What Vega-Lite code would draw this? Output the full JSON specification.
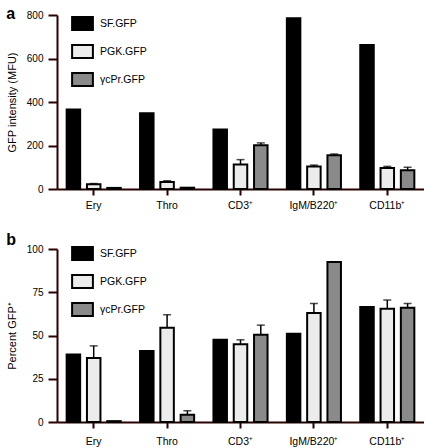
{
  "$schema": "https://vega.github.io/schema/vega-lite/v6.json",
  "padding": {"left": 6, "top": 6, "right": 0, "bottom": 0},
  "config": {
    "font": "Liberation Sans",
    "view": {"stroke": null},
    "axisX": {"domain": true, "ticks": true, "domainColor": "#2a0000", "domainWidth": 2, "tickColor": "#2a0000", "tickWidth": 2},
    "axisY": {"domain": true, "ticks": true, "domainColor": "#2a0000", "domainWidth": 2, "tickColor": "#2a0000", "tickWidth": 2},
    "axis": {"labelColor": "#000", "labelFontSize": 10, "titleFontSize": 11, "titleFontWeight": "normal", "titleColor": "#000", "grid": false},
    "title": {"fontSize": 16, "fontWeight": "bold", "color": "#000"},
    "legend": {"orient": "none", "title": null, "symbolType": "M-1.6,-1H1.6V1H-1.6Z", "symbolSize": 169, "symbolStrokeColor": "#000", "symbolStrokeWidth": 2, "symbolOpacity": 1, "labelFontSize": 10.5, "labelColor": "#000", "labelOffset": 10, "rowPadding": 7, "padding": 0}
  },
  "datasets": {
    "mfu": [
      {"cell": "Ery", "vector": "SF.GFP", "v": 365, "hi": null},
      {"cell": "Ery", "vector": "PGK.GFP", "v": 22, "hi": 25},
      {"cell": "Ery", "vector": "γcPr.GFP", "v": 5, "hi": null},
      {"cell": "Thro", "vector": "SF.GFP", "v": 348, "hi": null},
      {"cell": "Thro", "vector": "PGK.GFP", "v": 32, "hi": 38},
      {"cell": "Thro", "vector": "γcPr.GFP", "v": 6, "hi": null},
      {"cell": "CD3⁺", "vector": "SF.GFP", "v": 274, "hi": null},
      {"cell": "CD3⁺", "vector": "PGK.GFP", "v": 113, "hi": 135},
      {"cell": "CD3⁺", "vector": "γcPr.GFP", "v": 201, "hi": 212},
      {"cell": "IgM/B220⁺", "vector": "SF.GFP", "v": 785, "hi": null},
      {"cell": "IgM/B220⁺", "vector": "PGK.GFP", "v": 104, "hi": 110},
      {"cell": "IgM/B220⁺", "vector": "γcPr.GFP", "v": 155, "hi": 161},
      {"cell": "CD11b⁺", "vector": "SF.GFP", "v": 662, "hi": null},
      {"cell": "CD11b⁺", "vector": "PGK.GFP", "v": 97, "hi": 104},
      {"cell": "CD11b⁺", "vector": "γcPr.GFP", "v": 86, "hi": 100}
    ],
    "pct": [
      {"cell": "Ery", "vector": "SF.GFP", "v": 39, "hi": null},
      {"cell": "Ery", "vector": "PGK.GFP", "v": 37, "hi": 44},
      {"cell": "Ery", "vector": "γcPr.GFP", "v": 0.5, "hi": null},
      {"cell": "Thro", "vector": "SF.GFP", "v": 41, "hi": null},
      {"cell": "Thro", "vector": "PGK.GFP", "v": 54.5, "hi": 62},
      {"cell": "Thro", "vector": "γcPr.GFP", "v": 4.2, "hi": 6.5},
      {"cell": "CD3⁺", "vector": "SF.GFP", "v": 47.5, "hi": null},
      {"cell": "CD3⁺", "vector": "PGK.GFP", "v": 45, "hi": 47.5},
      {"cell": "CD3⁺", "vector": "γcPr.GFP", "v": 50.5, "hi": 56},
      {"cell": "IgM/B220⁺", "vector": "SF.GFP", "v": 51, "hi": null},
      {"cell": "IgM/B220⁺", "vector": "PGK.GFP", "v": 63, "hi": 68.5},
      {"cell": "IgM/B220⁺", "vector": "γcPr.GFP", "v": 92.5, "hi": null},
      {"cell": "CD11b⁺", "vector": "SF.GFP", "v": 66.5, "hi": null},
      {"cell": "CD11b⁺", "vector": "PGK.GFP", "v": 65.5, "hi": 70.5},
      {"cell": "CD11b⁺", "vector": "γcPr.GFP", "v": 66, "hi": 68.5}
    ]
  },
  "spacing": 21,
  "resolve": {"scale": {"color": "independent"}},
  "vconcat": [
    {
      "title": {"text": "a", "anchor": "start", "offset": -12},
      "width": 367,
      "height": 174,
      "data": {"name": "mfu"},
      "encoding": {
        "x": {"field": "cell", "type": "nominal", "sort": ["Ery", "Thro", "CD3⁺", "IgM/B220⁺", "CD11b⁺"], "scale": {"paddingInner": 0, "paddingOuter": 0}, "axis": {"title": null, "labelAngle": 0, "tickSize": 6, "labelPadding": 5, "labelFontSize": 10.5}},
        "xOffset": {"field": "vector", "type": "nominal", "sort": ["SF.GFP", "PGK.GFP", "γcPr.GFP"], "scale": {"paddingInner": 0.335, "paddingOuter": 0.476}}
      },
      "layer": [
        {
          "mark": {"type": "bar", "stroke": "#000", "strokeWidth": 2},
          "encoding": {
            "y": {"field": "v", "type": "quantitative", "scale": {"domain": [0, 800]}, "axis": {"values": [0, 200, 400, 600, 800], "title": "GFP intensity (MFU)", "tickSize": 9, "labelPadding": 5, "titlePadding": 9}},
            "color": {"field": "vector", "type": "nominal", "sort": ["SF.GFP", "PGK.GFP", "γcPr.GFP"], "scale": {"domain": ["SF.GFP", "PGK.GFP", "γcPr.GFP"], "range": ["#000000", "#ececec", "#8a8a8a"]}, "legend": {"orient": "none", "legendX": 18, "legendY": 1}}
          }
        },
        {
          "transform": [{"filter": "datum.hi != null"}],
          "mark": {"type": "rule", "strokeWidth": 1.5, "color": "#000"},
          "encoding": {"y": {"field": "v", "type": "quantitative"}, "y2": {"field": "hi"}}
        },
        {
          "transform": [{"filter": "datum.hi != null"}],
          "mark": {"type": "tick", "orient": "horizontal", "size": 8, "thickness": 1.5, "color": "#000"},
          "encoding": {"y": {"field": "hi", "type": "quantitative"}}
        }
      ]
    },
    {
      "title": {"text": "b", "anchor": "start", "offset": -4},
      "width": 367,
      "height": 173,
      "data": {"name": "pct"},
      "encoding": {
        "x": {"field": "cell", "type": "nominal", "sort": ["Ery", "Thro", "CD3⁺", "IgM/B220⁺", "CD11b⁺"], "scale": {"paddingInner": 0, "paddingOuter": 0}, "axis": {"title": null, "labelAngle": 0, "tickSize": 6, "labelPadding": 8, "labelFontSize": 10.5}},
        "xOffset": {"field": "vector", "type": "nominal", "sort": ["SF.GFP", "PGK.GFP", "γcPr.GFP"], "scale": {"paddingInner": 0.335, "paddingOuter": 0.476}}
      },
      "layer": [
        {
          "mark": {"type": "bar", "stroke": "#000", "strokeWidth": 2},
          "encoding": {
            "y": {"field": "v", "type": "quantitative", "scale": {"domain": [0, 100]}, "axis": {"values": [0, 25, 50, 75, 100], "title": "Percent GFP⁺", "tickSize": 9, "labelPadding": 5, "titlePadding": 9}},
            "color": {"field": "vector", "type": "nominal", "sort": ["SF.GFP", "PGK.GFP", "γcPr.GFP"], "scale": {"domain": ["SF.GFP", "PGK.GFP", "γcPr.GFP"], "range": ["#000000", "#ececec", "#8a8a8a"]}, "legend": {"orient": "none", "legendX": 18, "legendY": -3}}
          }
        },
        {
          "transform": [{"filter": "datum.hi != null"}],
          "mark": {"type": "rule", "strokeWidth": 1.5, "color": "#000"},
          "encoding": {"y": {"field": "v", "type": "quantitative"}, "y2": {"field": "hi"}}
        },
        {
          "transform": [{"filter": "datum.hi != null"}],
          "mark": {"type": "tick", "orient": "horizontal", "size": 8, "thickness": 1.5, "color": "#000"},
          "encoding": {"y": {"field": "hi", "type": "quantitative"}}
        }
      ]
    }
  ]
}
